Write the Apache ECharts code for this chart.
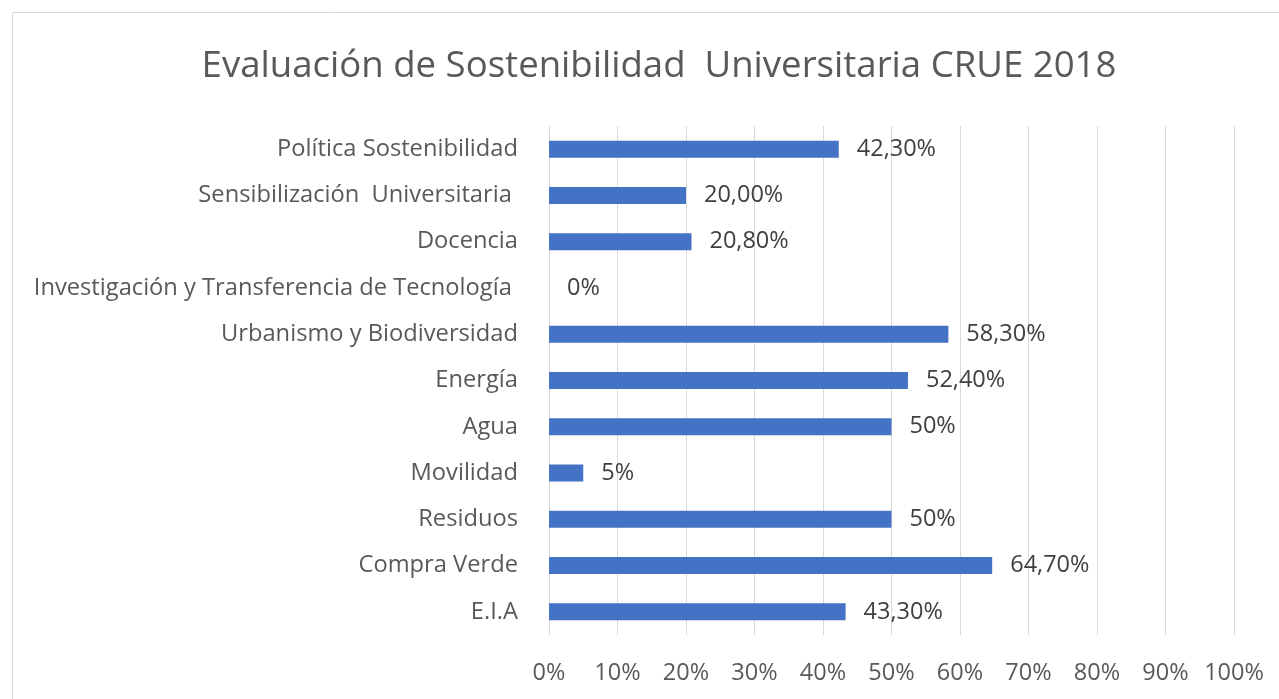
<!DOCTYPE html>
<html><head><meta charset="utf-8">
<script src="https://cdn.jsdelivr.net/npm/echarts@6/dist/echarts.min.js"></script>
<style>html,body{margin:0;padding:0;background:#fff}#c{width:1279px;height:699px}</style>
</head><body><div id="c"></div>
<script>
const titleText = 'Evaluación de Sostenibilidad  Universitaria CRUE 2018';
const categories = ['Política Sostenibilidad','Sensibilización  Universitaria ','Docencia','Investigación y Transferencia de Tecnología ','Urbanismo y Biodiversidad','Energía','Agua','Movilidad','Residuos','Compra Verde','E.I.A'];
const values = [42.3, 20.0, 20.8, 0, 58.3, 52.4, 50, 5, 50, 64.7, 43.3];
const valueLabels = ['42,30%','20,00%','20,80%','0%','58,30%','52,40%','50%','5%','50%','64,70%','43,30%'];
const FONT = 'Open Sans';
const chart = echarts.init(document.getElementById('c'), null, {renderer:'canvas'});
chart.setOption({
  animation:false,
  backgroundColor:'#fff',
  graphic:[{type:'rect',shape:{x:12.5,y:12.5,width:1300,height:800},style:{fill:'none',stroke:'#d9d9d9',lineWidth:1}}],
  title:{text:titleText,left:654,textAlign:'center',top:43,textStyle:{fontFamily:FONT,fontSize:36.6,fontWeight:'normal',color:'#595959'}},
  grid:{left:549,right:45,top:126,bottom:64,containLabel:false},
  xAxis:{type:'value',min:0,max:100,interval:10,
    axisLabel:{formatter:v=>v+'%',fontFamily:FONT,fontSize:23.5,color:'#595959',margin:26},
    splitLine:{show:true,lineStyle:{color:'#d9d9d9',width:1}},
    axisLine:{show:false},axisTick:{show:false}},
  yAxis:{type:'category',data:categories,inverse:true,
    axisLabel:{fontFamily:FONT,fontSize:23.7,color:'#595959',margin:31},
    axisLine:{show:false},axisTick:{show:false},splitLine:{show:false}},
  series:[{type:'bar',data:values,barWidth:17,itemStyle:{color:'#4472C4'},
    label:{show:true,position:'right',distance:18,fontFamily:FONT,fontSize:23.5,color:'#404040',
      formatter:p=>valueLabels[p.dataIndex]}}]
});
</script></body></html>
